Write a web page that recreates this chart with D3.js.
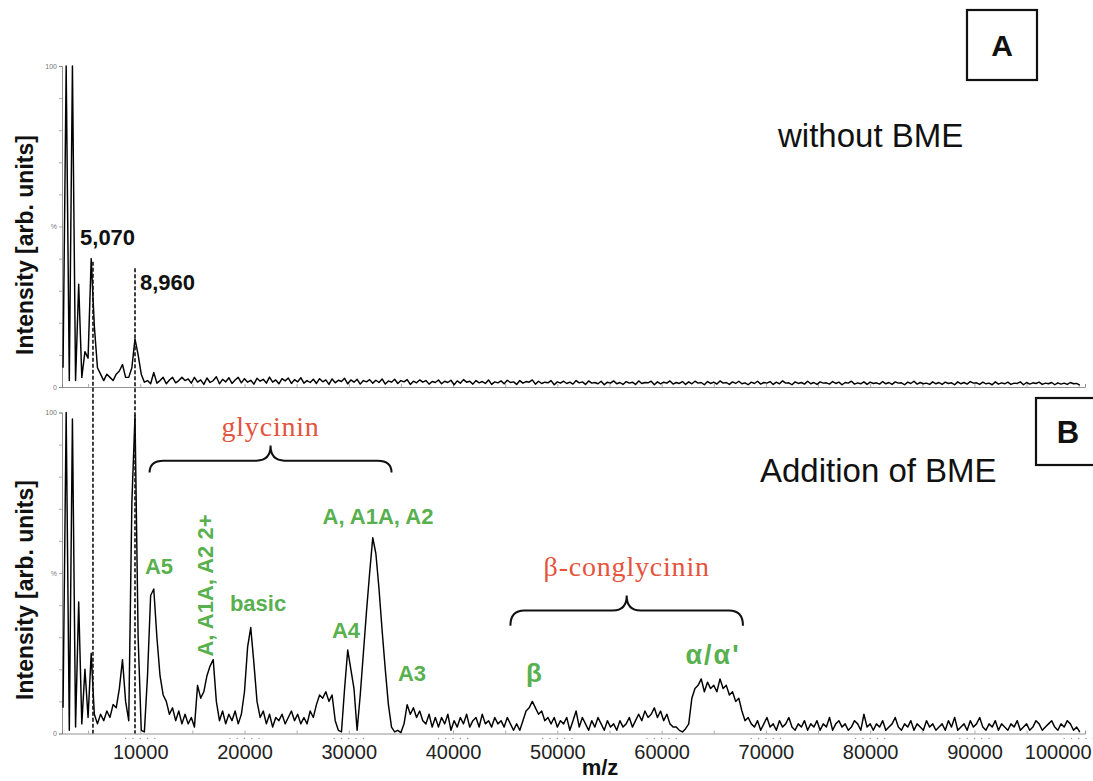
<!DOCTYPE html>
<html lang="en">
<head>
<meta charset="utf-8">
<title>Soy protein MALDI spectra, with and without BME</title>
<script src="https://cdn.jsdelivr.net/npm/d3@7"></script>
<style>
  body { margin: 0; background: #fff; }
  svg { display: block; }
</style>
</head>
<body>
<script>
// spectrum channels: m/z of channel i is mzStart + i * mzStep
var mzStart = 2600;
var mzStep = 300;

// panel A, without BME (relative intensity, %)
var withoutBME = [
  6,100,2,100,2,32,3,11,9,40,19,6,4,2,4,3,2,4,5,7,
  3,3,6,15,10,4,1.5,2,1,4.5,1.2,2,3,1,2.2,3,1.3,2,3,2,
  2.5,1.2,3,1.5,2.2,0.8,2.8,1.4,2,3.2,1,2.4,1.6,2.9,1.1,2.2,3,1.3,2.6,1.5,
  2.1,0.9,2.7,1.8,2.4,1.2,3.1,1.5,2.2,1,2.6,1.9,2.8,1.1,2.3,1.6,2.9,1.2,2,1.4,
  2.4,1.1,2.6,1.6,2.2,0.8,2.5,1.3,2.1,1.7,2.7,1,2.2,1.5,2.4,0.9,2,1.6,2.3,1.2,
  2.1,1.4,2.5,0.9,1.9,1.5,2.4,1.1,2,1.6,2.3,0.8,1.8,1.3,2.2,1.5,2,0.9,1.7,1.4,
  2.2,1,1.8,1.4,2.1,0.7,1.9,1.2,2.3,1.5,1.8,0.9,2,1.3,1.7,1.1,2.2,0.8,1.6,1.3,
  1.9,1,2.1,1.4,1.6,0.8,2,1.2,1.7,1.5,2.2,0.9,1.8,1.1,1.5,1.3,2,0.7,1.6,1.2,
  1.8,1.1,1.5,0.9,2,1.3,1.6,0.8,1.9,1.2,1.4,1,1.8,0.7,1.5,1.2,1.9,1,1.4,0.8,
  1.7,1.2,1.5,0.8,1.9,1.1,1.4,1.3,1.8,0.7,1.6,1,1.5,1.2,1.9,0.9,1.4,1.1,1.7,0.8,
  1.6,1,1.8,1.2,1.4,0.7,1.7,1.1,1.5,0.9,1.9,1.2,1.4,0.8,1.6,1.1,1.8,1,1.3,0.7,
  1.5,1.1,1.8,0.9,1.4,1.2,1.7,0.8,1.5,1,1.9,1.2,1.3,0.7,1.6,1.1,1.4,0.9,1.8,1,
  1.4,0.8,1.6,1.2,1.3,0.9,1.7,1.1,1.5,0.7,1.4,1.2,1.8,0.9,1.3,1,1.6,0.8,1.5,1.1,
  1.3,0.9,1.7,1,1.4,0.8,1.6,1.2,1.3,0.7,1.5,1.1,1.8,0.9,1.4,1,1.2,0.8,1.6,1,
  1.4,0.8,1.5,1.1,1.3,0.7,1.6,1,1.4,0.9,1.7,1.2,1.3,0.8,1.5,1,1.2,0.7,1.6,0.9,
  1.3,1,1.5,0.8,1.2,1.1,1.6,0.7,1.4,0.9,1.3,1.1,1.5,0.8,1.2,1,1.4,0.7,1.3,0.9,
  1.2,0.8,1.4,1,1.1,0.6
];

// panel B, addition of BME (relative intensity, %)
var withBME = [
  8,100,1,98,2,41,3,20,5,25,6,3,6,4,7,5,9,8,14,23,
  10,4,72,99,30,1,0.5,18,43,45,30,18,12,10,6,8,4,7,3,6,
  3,5,2,15,11,13,18,21,23,10,4,7,3,6,4,7,3,6,13,27,
  33,22,10,5,7,3,6,2,5,4,6,3,5,7,4,6,3,5,3,7,
  5,9,12,11,13,10,12,4,1,0.5,14,26,20,14,1,12,25,38,50,61,
  56,45,32,20,9,2,0.5,1,0.3,3,9,6,8,5,7,4,3,6,2,5,
  2,5,3,6,1,4,2,5,3,6,2,4,5,2,6,3,4,2,5,3,
  4,2,5,3,1,3,1,4,7,8,10,8,6,7,4,5,3,5,2,4,
  3,5,1,4,7,2,5,3,1,4,2,5,3,1,4,2,3,1,4,2,
  3,5,2,4,6,4,7,5,6,8,5,7,4,6,3,2,2,1,0.5,1.5,
  3,11,14,15,17,13,16,14,15,13,17,14,15,12,13,10,11,7,4,5,
  3,2,4,1,3,5,2,3,1,4,2,3,5,2,1,3,2,4,1,3,
  2,4,1,3,2,5,1,3,4,2,3,1,2,4,3,1,6,2,3,1,
  3,2,4,1,2,3,5,2,1,3,2,4,1,3,2,1,4,2,3,1,
  2,3,1,4,2,5,1,2,3,1,4,2,3,5,2,1,3,2,4,1,
  3,2,1,3,2,4,1,2,3,1,2,4,3,1,2,3,4,2,1,3,
  2,4,3,1,2,0.5
];

var xTicks = [10000, 20000, 30000, 40000, 50000, 60000, 70000, 80000, 90000, 100000];
var xMinorTicks = d3.range(5000, 100001, 5000);
var yTicks = [0, 10, 20, 30, 40, 50, 60, 70, 80, 90, 100];
var yTickLabels = {0: "0", 50: "%", 100: "100"};

// dashed guides from panel A peaks down to the panel B baseline
var guideLabels = ["5,070", "8,960"];
var guideMz = [5470, 9500];
var guideTop = [39, 37];          // where the guide starts, % of panel A
var guideLabelMz = [4230, 9980];
var guideLabelY = [44.2, 30.2];

// component braces in panel B (m/z span, % heights: cusp, bar, ends)
var braceNames = ["glycinin", "\u03b2-conglycinin"];
var braceFrom = [10900, 45500];
var braceTo = [34100, 67800];
var braceCusp = [89.7, 43.0];
var braceBar = [85.0, 38.3];
var braceEnd = [81.3, 33.6];
var braceNameY = [92.8, 49.2];

// peak assignments in panel B
var peakNames = ["A5", "A, A1A, A2 2+", "basic", "A4", "A, A1A, A2", "A3", "\u03b2", "\u03b1/\u03b1'"];
var peakMz = [11800, 16980, 21300, 29730, 32800, 36060, 47760, 64930];
var peakY = [49.8, 46.1, 38.3, 29.9, 65.4, 16.5, 15.9, 21.8];

var width = 1093, height = 781;
var green = "#58b04f", red = "#e4533c";

var svg = d3.select("body").append("svg")
  .attr("width", width)
  .attr("height", height)
  .style("font-family", "'Liberation Sans', Arial, sans-serif");

var x = d3.scaleLinear().domain([2500, 100600]).range([62, 1085]);
var yA = d3.scaleLinear().domain([0, 100]).range([387, 66]);
var yB = d3.scaleLinear().domain([0, 100]).range([733.5, 412.5]);

function mzOf(i) { return mzStart + i * mzStep; }

function drawPanel(yScale, values, withLabels, titleY) {
  var base = yScale(0);

  // minor ticks on the baseline
  svg.append("g")
    .attr("transform", "translate(0," + base + ")")
    .call(d3.axisBottom(x).tickValues(xMinorTicks).tickSize(-3).tickFormat(""))
    .call(function(g) {
      g.select(".domain").attr("stroke", "#777").attr("stroke-width", 0.8);
      g.selectAll(".tick line").attr("stroke", "#888").attr("stroke-width", 0.7);
    });

  if (withLabels) {
    var ax = svg.append("g")
      .attr("transform", "translate(0," + base + ")")
      .call(d3.axisBottom(x).tickValues(xTicks).tickSize(0).tickPadding(11).tickFormat(d3.format("d")));
    ax.select(".domain").remove();
    ax.selectAll("text")
      .attr("font-size", 20)
      .attr("font-family", "'Liberation Sans', Arial, sans-serif")
      .attr("fill", "#222")
      .attr("dx", function(d) { return d === 100000 ? -21 : 0; });

    // faint dotted marks under each labelled tick
    xTicks.forEach(function(t) {
      svg.append("g").selectAll("circle")
        .data([-1400, -700, 0, 700, 1400])
        .enter().append("circle")
        .attr("cx", function(k) { return x(t + k); })
        .attr("cy", base + 5)
        .attr("r", 0.7)
        .attr("fill", "#999");
    });
  }

  svg.append("g")
    .attr("transform", "translate(62,0)")
    .call(d3.axisLeft(yScale).tickValues(yTicks).tickSize(3).tickPadding(2)
      .tickFormat(function(d) { return yTickLabels[d] || ""; }))
    .call(function(g) {
      g.select(".domain").attr("stroke", "#777").attr("stroke-width", 0.8);
      g.selectAll(".tick line").attr("stroke", "#888").attr("stroke-width", 0.7);
      g.selectAll("text").attr("font-size", 7).attr("fill", "#777")
        .attr("font-family", "'Liberation Sans', Arial, sans-serif");
    });

  svg.append("path")
    .datum(values)
    .attr("fill", "none")
    .attr("stroke", "#000")
    .attr("stroke-width", 1.45)
    .attr("stroke-linejoin", "round")
    .attr("d", d3.line()
      .x(function(d, i) { return x(mzOf(i)); })
      .y(function(d) { return yScale(d); }));

  svg.append("text")
    .attr("transform", "translate(33," + titleY + ") rotate(-90)")
    .attr("text-anchor", "middle")
    .attr("font-size", 23)
    .attr("font-weight", "bold")
    .attr("fill", "#111")
    .text("Intensity [arb. units]");
}

drawPanel(yA, withoutBME, false, 245);
drawPanel(yB, withBME, true, 590);

// dashed guide lines and their labels
guideMz.forEach(function(mz, k) {
  svg.append("line")
    .attr("x1", x(mz)).attr("x2", x(mz))
    .attr("y1", yA(guideTop[k])).attr("y2", yB(0))
    .attr("stroke", "#111")
    .attr("stroke-width", 1.6)
    .attr("stroke-dasharray", "4,2");
  svg.append("text")
    .attr("x", x(guideLabelMz[k]))
    .attr("y", yA(guideLabelY[k]))
    .attr("font-size", 22)
    .attr("font-weight", "bold")
    .attr("fill", "#111")
    .text(guideLabels[k]);
});

// braces
function bracePath(x0, x1, yTop, yMid, yEnd) {
  var xc = (x0 + x1) / 2, r = 14, p = d3.path();
  p.moveTo(x0, yEnd);
  p.quadraticCurveTo(x0, yMid, x0 + r, yMid);
  p.lineTo(xc - r, yMid);
  p.quadraticCurveTo(xc, yMid, xc, yTop);
  p.quadraticCurveTo(xc, yMid, xc + r, yMid);
  p.lineTo(x1 - r, yMid);
  p.quadraticCurveTo(x1, yMid, x1, yEnd);
  return p.toString();
}

braceNames.forEach(function(name, k) {
  svg.append("path")
    .attr("d", bracePath(x(braceFrom[k]), x(braceTo[k]), yB(braceCusp[k]), yB(braceBar[k]), yB(braceEnd[k])))
    .attr("fill", "none")
    .attr("stroke", "#111")
    .attr("stroke-width", 2);
  svg.append("text")
    .attr("x", x((braceFrom[k] + braceTo[k]) / 2))
    .attr("y", yB(braceNameY[k]))
    .attr("text-anchor", "middle")
    .attr("font-family", "'Liberation Serif', 'Times New Roman', serif")
    .attr("font-size", 28)
    .attr("letter-spacing", 0.8)
    .attr("fill", red)
    .text(name);
});

// peak labels
peakNames.forEach(function(name, k) {
  var t = svg.append("text")
    .attr("text-anchor", "middle")
    .attr("font-weight", "bold")
    .attr("fill", green)
    .attr("font-size", 22)
    .text(name);
  if (name === "A, A1A, A2 2+") {
    t.attr("transform", "translate(" + x(peakMz[k]) + "," + yB(peakY[k]) + ") rotate(-90)");
  } else {
    t.attr("x", x(peakMz[k])).attr("y", yB(peakY[k]));
  }
  if (name === "\u03b2") t.attr("font-size", 26);
  if (name === "\u03b1/\u03b1'") t.attr("font-size", 27).attr("letter-spacing", 2);
});

// panel tags and conditions
svg.append("rect")
  .attr("x", 967).attr("y", 10).attr("width", 70).attr("height", 70)
  .attr("fill", "none").attr("stroke", "#111").attr("stroke-width", 2.2);
svg.append("text")
  .attr("x", 1002).attr("y", 56)
  .attr("text-anchor", "middle")
  .attr("font-size", 30).attr("font-weight", "bold").attr("fill", "#111")
  .text("A");

svg.append("rect")
  .attr("x", 1036).attr("y", 398).attr("width", 70).attr("height", 67)
  .attr("fill", "none").attr("stroke", "#111").attr("stroke-width", 2.2);
svg.append("text")
  .attr("x", 1068).attr("y", 443)
  .attr("text-anchor", "middle")
  .attr("font-size", 31).attr("font-weight", "bold").attr("fill", "#111")
  .text("B");

svg.append("text")
  .attr("x", 778).attr("y", 147)
  .attr("font-size", 33).attr("fill", "#111")
  .text("without BME");

svg.append("text")
  .attr("x", 760).attr("y", 482)
  .attr("font-size", 33).attr("fill", "#111")
  .text("Addition of BME");

svg.append("text")
  .attr("x", 600).attr("y", 775)
  .attr("text-anchor", "middle")
  .attr("font-size", 22).attr("font-weight", "bold").attr("fill", "#111")
  .text("m/z");
</script>
</body>
</html>
